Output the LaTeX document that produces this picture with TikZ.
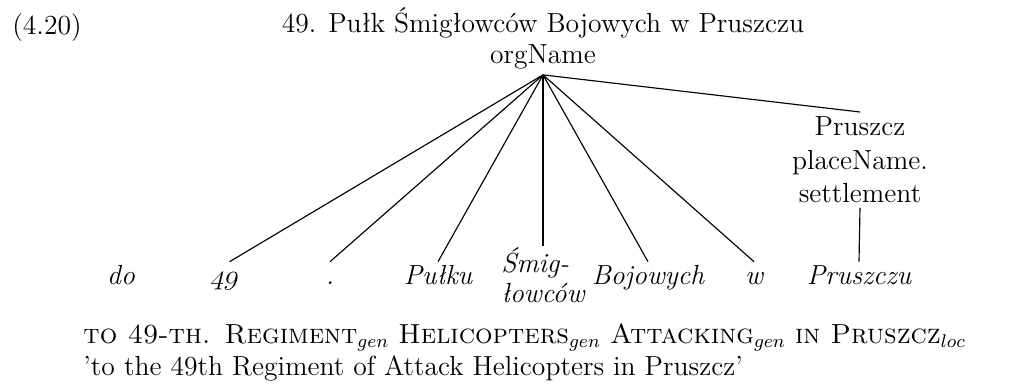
\documentclass[12pt,tikz,border=0pt]{standalone}
\newcommand{\osnum}[1]{{\fontencoding{OML}\fontfamily{cmm}\fontseries{m}\fontshape{it}\selectfont #1}}
\begin{document}
\begin{tikzpicture}[x=0.4348pt,y=-0.4348pt,
  every node/.style={inner xsep=0pt,inner ysep=2.5pt},
  leaf/.style={font=\itshape,anchor=base,text height=7.5pt,text depth=2.5pt,inner ysep=2pt},
  edge/.style={draw=black,line width=0.5pt}]
\useasboundingbox (0,0) rectangle (1036,383);
\node[anchor=base west] (num) at (12,34) {(4.20)};
\node[anchor=base] (title) at (543,32) {49. Pułk Śmigłowców Bojowych w Pruszczu};
\node[anchor=base] (org) at (543,63) {orgName};
\node[anchor=north,align=center,inner ysep=2pt] (pl) at (860,112) {Pruszcz\\placeName.\\settlement};
\node[leaf] (l1) at (121,284) {do};
\node[leaf,xslant=0.25,transform shape] (l2) at (224,284) {\osnum{49}};
\node[leaf] (l3) at (330,284) {.};
\node[leaf] (l4) at (438,284) {Pułku};
\node[anchor=north,align=left,font=\itshape\linespread{0.9}\selectfont,inner ysep=0.5pt] (l5) at (543,246) {Śmig-\\łowców};
\node[leaf] (l6) at (648,284) {Bojowych};
\node[leaf] (l7) at (754,284) {w};
\node[leaf] (l8) at (859,284) {Pruszczu};
\node[anchor=base west] (gl) at (83,343) {\textsc{to 49-th. Regiment}$_{gen}$ \textsc{Helicopters}$_{gen}$ \textsc{Attacking}$_{gen}$ \textsc{in Pruszcz}$_{loc}$};
\node[anchor=base west] (tr) at (83,375) {'to the 49th Regiment of Attack Helicopters in Pruszcz'};
\foreach \n in {l2,l3,l4,l5,l6,l7,pl} \draw[edge] (org.south) -- (\n.north);
\draw[edge] (pl.south) -- (l8.north);
\end{tikzpicture}
\end{document}
